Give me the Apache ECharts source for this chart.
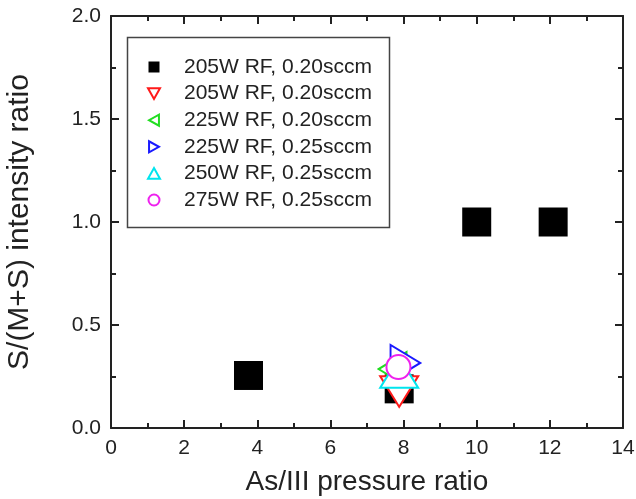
<!DOCTYPE html>
<html>
<head>
<meta charset="utf-8">
<script src="https://cdn.jsdelivr.net/npm/echarts@6/dist/echarts.min.js"></script>
<style>
html,body{margin:0;padding:0;background:#fff;}
#chart{width:636px;height:499px;}
</style>
</head>
<body>
<div id="chart"></div>
<script>
// ---- data ----
const seriesNames = ['205W RF, 0.20sccm', '205W RF, 0.20sccm ', '225W RF, 0.20sccm', '225W RF, 0.25sccm', '250W RF, 0.25sccm', '275W RF, 0.25sccm'];
const black205 = [[3.76, 0.255], [7.88, 0.19], [10.0, 1.0], [12.09, 1.0]];
const red205 = [[7.88, 0.177]];
const green225 = [[7.70, 0.286]];
const blue225 = [[8.05, 0.316]];
const cyan250 = [[7.88, 0.27]];
const magenta275 = [[7.86, 0.296]];
const xTicks = [0, 2, 4, 6, 8, 10, 12, 14];
const yTicks = [0.0, 0.5, 1.0, 1.5, 2.0];

const FONT = 'Liberation Sans, Arial, sans-serif';
const AX = '#222';

const SYM = {
  square: 'path://M0,0L10,0L10,10L0,10Z',
  down: 'path://M0,0L10,0L5,9Z',
  left: 'path://M9,0L9,10L0,5Z',
  right: 'path://M0,0L0,10L9,5Z',
  up: 'path://M5,0L10,9L0,9Z'
};

function hollow(name, data, symbol, size, color) {
  return {
    name: name, type: 'scatter', data: data, symbol: symbol, symbolSize: size,
    symbolKeepAspect: true,
    itemStyle: { color: '#fff', borderColor: color, borderWidth: 2, opacity: 1 },
    emphasis: { disabled: true }
  };
}

const chart = echarts.init(document.getElementById('chart'), null, { renderer: 'canvas' });

const axisCommon = {
  axisLine: { show: true, onZero: false, lineStyle: { color: AX, width: 2 } },
  axisTick: { show: true, inside: true, length: 8, lineStyle: { color: AX, width: 2 } },
  minorTick: { show: true, splitNumber: 2, length: 5, lineStyle: { color: AX, width: 2 } },
  splitLine: { show: false }
};

chart.setOption({
  animation: false,
  backgroundColor: '#fff',
  grid: { left: 111, right: 13, top: 16, bottom: 71, containLabel: false, outerBoundsMode: 'none' },
  xAxis: [
    Object.assign({}, axisCommon, {
      type: 'value', min: 0, max: 14, interval: 2, position: 'bottom',
      name: 'As/III pressure ratio', nameLocation: 'middle', nameGap: 40,
      nameTextStyle: { fontFamily: FONT, fontSize: 28, color: AX },
      axisLabel: { fontFamily: FONT, fontSize: 21, color: AX, margin: 10,
        formatter: v => xTicks.includes(v) ? String(v) : '' }
    }),
    Object.assign({}, axisCommon, {
      type: 'value', min: 0, max: 14, interval: 2, position: 'top',
      axisLabel: { show: false }
    })
  ],
  yAxis: [
    Object.assign({}, axisCommon, {
      type: 'value', min: 0, max: 2, interval: 0.5, position: 'left',
      name: 'S/(M+S) intensity ratio', nameLocation: 'middle', nameGap: 76,
      nameTextStyle: { fontFamily: FONT, fontSize: 30, color: AX },
      axisLabel: { fontFamily: FONT, fontSize: 21, color: AX, margin: 10,
        formatter: v => { const t = yTicks.find(x => Math.abs(x - v) < 1e-9); return t === undefined ? '' : t.toFixed(1); } }
    }),
    Object.assign({}, axisCommon, {
      type: 'value', min: 0, max: 2, interval: 0.5, position: 'right',
      axisLabel: { show: false }
    })
  ],
  graphic: [{
    type: 'rect', left: 125, top: 35, z: 0,
    shape: { width: 262, height: 190 },
    style: { fill: 'none', stroke: '#444', lineWidth: 1.5 }
  }],
  legend: {
    orient: 'vertical', left: 147, top: 56, padding: 0,
    itemWidth: 12, itemHeight: 11, itemGap: 4.6,
    textStyle: { fontFamily: FONT, fontSize: 21, color: AX, lineHeight: 22, padding: [0, 0, 0, 19] },
    selectedMode: false,
    data: seriesNames
  },
  series: [
    {
      name: seriesNames[0], type: 'scatter', data: black205, symbol: SYM.square, symbolSize: 29,
      symbolKeepAspect: true,
      itemStyle: { color: '#000', opacity: 1 }, emphasis: { disabled: true }
    },
    hollow(seriesNames[1], red205, SYM.down, [38, 34], '#ff1a1a'),
    hollow(seriesNames[2], green225, SYM.left, [31, 34], '#22dd22'),
    hollow(seriesNames[3], blue225, SYM.right, [33, 36], '#1a1aff'),
    hollow(seriesNames[4], cyan250, SYM.up, [38, 34], '#00e5ee'),
    hollow(seriesNames[5], magenta275, 'circle', 24, '#ee22ee')
  ]
});
</script>
</body>
</html>
